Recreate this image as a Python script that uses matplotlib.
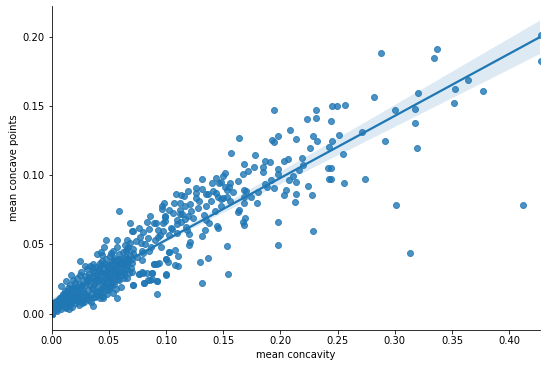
import matplotlib
matplotlib.use("Agg")
import matplotlib.pyplot as plt
import numpy as np
import seaborn as sns

upper_x = [.4280,.4275,.3371,.3345,.2880,.3643,.3529,.3766,.3520,.3205,.2819,.2564,.2494,.2447,.3003,.3178,.3178,.2445,.2713,.2511,.2453,.2915,.3196,.2546,.2739,.2555,.2439,.2439,.3011,.4117,.3134]
upper_y = [.2012,.1824,.1911,.1846,.1882,.1687,.1622,.1607,.1520,.1593,.1564,.1506,.1499,.1499,.1470,.1477,.1376,.1390,.1311,.1289,.1245,.1245,.1195,.1151,.0970,.0942,.0970,.1050,.0782,.0782,.0435]

mid_x = [.1940,.2229,.2308,.2308,.2080,.1642,.1975,.1928,.1948,.2132,.2281,.2316,.2255,.2421,.1572,.1782,.2185,.1686,.1861,.1905,.2027,.2062,.1773,.1721,.1677,.1852,.1852,.1975,.1975,.2194,.2159,.2413,.2421,.1519,.1502,.1440,.1318,.1186,.1405,.1467,.1484,.1563,.1633,.1519,.1554,.2071,.2106,.2132,.1922,.1861,.1887,.1948,.2045,.2237,.2027,.2132,.2272,.2124,.1799,.1808,.1747,.1686,.1703,.1589]
mid_y = [.1470,.1405,.1470,.1412,.1325,.1268,.1282,.1253,.1239,.1260,.1282,.1246,.1195,.1202,.1159,.1145,.1123,.1080,.1101,.1094,.1101,.1116,.1058,.1029,.1007,.1058,.1022,.1043,.1007,.1072,.1036,.1051,.0971,.1014,.0993,.0978,.0971,.0964,.0942,.0942,.0949,.0942,.0957,.0918,.0913,.0964,.0993,.0949,.0964,.0935,.0913,.0906,.0892,.0921,.0855,.0863,.0855,.0805,.0798,.0877,.0841,.0892,.0884,.0877]

band_x = [.1265,.1265,.1318,.1090,.1134,.1160,.1195,.1265,.1291,.1353,.1370,.1414,.1440,.1458,.1484,.1537,.1563,.1686,.1686,.1353,.1484,.0985,.0967,.0967,.1029,.1072,.1125,.1169,.1125,.1125,.1221,.1195,.0862,.0994,.0836,.0897,.0994,.1099,.1134,.1169,.1353,.1379,.1642,.1633,.1694,.1677,.1686,.1983,.2281,.1449,.1458,.1344,.1318,.1537,.1975,.1213,.1204,.1370,.1300,.1545,.1318,.1204,.1186,.1099,.1055,.1029,.0976,.0976,.0932,.0766,.0713,.0801,.0845,.0932,.0783,.0958,.1081,.1029,.1108,.1108,.1081,.1002,.1020,.0941,.0897,.1002,.0923,.0862,.0810,.0880,.0836,.0792,.0766,.0713,.0704,.0792,.0853,.0801,.0713,.0699]
band_y = [.0906,.0870,.0899,.0863,.0855,.0848,.0884,.0834,.0812,.0863,.0863,.0884,.0870,.0841,.0827,.0841,.0812,.0841,.0798,.0776,.0776,.0798,.0776,.0754,.0747,.0798,.0798,.0776,.0747,.0718,.0740,.0704,.0704,.0704,.0660,.0653,.0667,.0675,.0660,.0682,.0675,.0653,.0747,.0733,.0689,.0660,.0639,.0660,.0595,.0631,.0617,.0602,.0559,.0487,.0494,.0516,.0494,.0400,.0371,.0284,.0219,.0573,.0602,.0581,.0610,.0566,.0653,.0595,.0602,.0617,.0595,.0588,.0545,.0552,.0508,.0479,.0458,.0443,.0414,.0342,.0349,.0393,.0371,.0364,.0357,.0284,.0234,.0241,.0219,.0291,.0291,.0299,.0284,.0205,.0299,.0385,.0451,.0436,.0436,.0364]

lower_x = [.0590,.0683,.0473,.0572,.0660,.0704,.0660,.0572,.0537,.0520,.0459,.0432,.0397,.0441,.0248,.0528,.0669,.0634,.0616,.0421,.0362,.0581,.0634,.0678,.0660,.0607,.0713,.0520,.0485,.0537,.0572,.0441,.0423,.0362,.0152,.0266,.0169,.0126,.0082,.0695,.0923,.0923,.1001,.0809,.0844,.0879,.0879,.0800,.0765,.0896,.0923,.1001,.1028]
lower_y = [.0739,.0652,.0529,.0529,.0529,.0595,.0464,.0479,.0450,.0435,.0479,.0443,.0428,.0421,.0378,.0378,.0392,.0370,.0356,.0363,.0356,.0291,.0284,.0291,.0255,.0190,.0204,.0204,.0168,.0146,.0110,.0153,.0110,.0052,.0031,.0074,.0276,.0233,.0197,.0327,.0139,.0233,.0276,.0219,.0240,.0248,.0291,.0291,.0284,.0356,.0356,.0392,.0443]

dense_x = [0,.0007,.0012,.0015,.0020,.0025,.0031,.0035,.0040,.0046,.0050,.0056,.0062,.0068,.0075,.0080,.0087,.0092,.0098,.0105,.0110,.0115,.0122,.0126,.0133,.0140,.0146,.0150,.0155,.0160,.0166,.0172,.0178,.0183,.0190,.0195,.0200,.0207,.0213,.0220,.0226,.0232,.0238,.0244,.0250,.0255,.0260,.0267,.0272,.0278,.0285,.0290,.0296,.0302,.0308,.0313,.0320,.0326,.0332,.0338,.0345,.0350,.0356,.0362,.0368,.0375,.0380,.0386,.0392,.0398,.0404,.0410,.0416,.0422,.0428,.0434,.0440,.0446,.0452,.0458,.0464,.0470,.0476,.0482,.0488,.0495,.0502,.0510,.0516,.0524,.0532,.0540,.0548,.0556,.0564,.0572,.0582,.0592,.0602,.0612,.0624,.0636,.0648,.0660,.0440,.0480,.0510,.0550,.0590,.0625,.0640,.0670,.0600,.0580,.0690,.0700,.0660,.0640]
dense_y = [0,.0018,.0029,.0012,.0036,.0058,.0025,.0070,.0042,.0090,.0030,.0065,.0105,.0049,.0080,.0120,.0060,.0100,.0142,.0075,.0115,.0050,.0160,.0090,.0130,.0070,.0185,.0105,.0145,.0060,.0210,.0125,.0090,.0170,.0240,.0105,.0145,.0195,.0075,.0125,.0260,.0170,.0100,.0215,.0145,.0300,.0190,.0115,.0240,.0165,.0085,.0275,.0205,.0130,.0320,.0240,.0170,.0100,.0285,.0205,.0140,.0335,.0255,.0180,.0120,.0300,.0225,.0155,.0340,.0270,.0195,.0135,.0315,.0240,.0170,.0350,.0285,.0210,.0130,.0330,.0255,.0190,.0300,.0225,.0345,.0270,.0175,.0320,.0240,.0290,.0355,.0260,.0215,.0310,.0370,.0270,.0330,.0240,.0390,.0300,.0345,.0260,.0410,.0320,.0380,.0395,.0415,.0405,.0430,.0445,.0495,.0480,.0360,.0375,.0420,.0395,.0355,.0370]

fill_x = [.0000,.0000,.0000,.0000,.0000,.0009,.0018,.0033,.0044,.0059,.0071,.0083,.0096,.0102,.0119,.0128,.0137,.0151,.0164,.0175,.0181,.0193,.0204,.0211,.0223,.0236,.0243,.0252,.0263,.0274,.0283,.0293,.0299,.0306,.0317,.0329,.0335,.0341,.0353,.0359,.0371,.0377,.0389,.0395,.0407,.0413,.0425,.0431,.0443,.0449,.0461,.0467,.0473,.0485,.0491,.0498,.0506,.0513,.0521,.0529,.0537,.0545,.0553,.0561,.0569,.0577,.0587,.0597,.0607,.0618,.0630,.0645,.0655,.0672,.0685,.0710,.0735,.0750,.0775,.0790,.0820,.0850,.0870,.0905,.0915,.0950,.0990,.1040,.1060,.1100,.1140,.1175,.1210,.1240,.1280,.1330,.1390,.1430,.1500,.1530]
fill_y = [.0000,.0000,.0000,.0000,.0000,.0040,.0065,.0085,.0018,.0045,.0115,.0035,.0072,.0130,.0092,.0038,.0165,.0078,.0115,.0183,.0050,.0128,.0222,.0095,.0178,.0062,.0135,.0282,.0208,.0098,.0148,.0345,.0112,.0225,.0128,.0262,.0342,.0085,.0185,.0305,.0212,.0118,.0278,.0142,.0232,.0328,.0165,.0298,.0245,.0115,.0198,.0355,.0278,.0145,.0315,.0225,.0352,.0192,.0278,.0332,.0228,.0385,.0295,.0178,.0342,.0252,.0395,.0302,.0355,.0278,.0402,.0328,.0455,.0375,.0510,.0465,.0525,.0410,.0555,.0455,.0505,.0610,.0480,.0530,.0655,.0565,.0700,.0620,.0730,.0650,.0720,.0625,.0790,.0690,.0765,.0715,.0810,.0740,.0835,.0890]

concavity = np.array(upper_x + mid_x + band_x + lower_x + dense_x + fill_x)
concave_points = np.array(upper_y + mid_y + band_y + lower_y + dense_y + fill_y)

x_label = "mean concavity"
y_label = "mean concave points"
x_ticks = [0, .05, .10, .15, .20, .25, .30, .35, .40]
y_ticks = [0, .05, .10, .15, .20]

fig = plt.figure(figsize=(546/72, 366/72), dpi=72)
ax = fig.add_axes([51.5/546, 1-329.5/366, 488.5/546, 323.5/366])
sns.regplot(x=concavity, y=concave_points, ax=ax, seed=1)
ax.set_xlim(0, .4268)
ax.set_ylim(-.0115, .2222)
ax.set_xticks(x_ticks)
ax.set_yticks(y_ticks)
ax.xaxis.set_major_formatter(matplotlib.ticker.FormatStrFormatter('%.2f'))
ax.yaxis.set_major_formatter(matplotlib.ticker.FormatStrFormatter('%.2f'))
ax.set_xlabel(x_label)
ax.set_ylabel(y_label, labelpad=3)
sns.despine(ax=ax)
fig.savefig("out.png", dpi=72)
